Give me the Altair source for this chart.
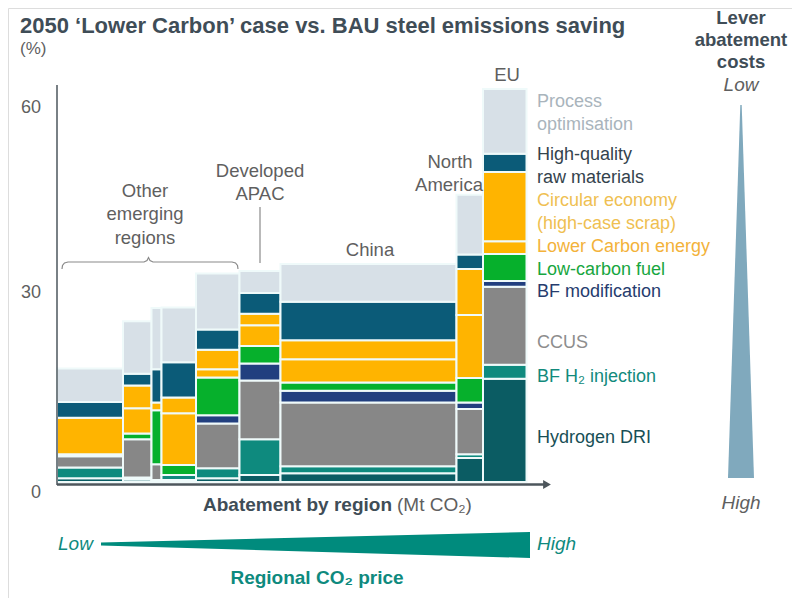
import altair as alt
import pandas as pd

# ---------------- data ----------------
bar_names = ["Other emerging 1", "Other emerging 2", "Other emerging 3", "Other emerging 4",
             "Other emerging 5", "Developed APAC", "China", "North America", "EU"]
# abatement by region (bar widths, relative Mt CO2)
bar_widths = [66, 28.5, 10, 34.5, 43.5, 41, 176, 26.5, 43.5]

levers = ["Hydrogen DRI", "BF H2 injection", "CCUS", "BF modification", "Low-carbon fuel",
          "Lower Carbon energy", "Circular economy", "High-quality raw materials",
          "Process optimisation"]
lever_colors = ["#0b5c63", "#0e8a7e", "#878787", "#213f7f", "#06b02c",
                "#ffb400", "#ffb400", "#0b5b78", "#d7e0e7"]

# emissions saving (%) per lever, one value per bar (bottom -> top stacking order)
hydrogen_dri   = [0.6, 0.4, 0.3, 0.3, 0.6, 1.1, 1.4, 3.8, 16.4]
bf_h2          = [1.7, 0.3, 0.0, 0.8, 1.6, 5.7, 1.1, 0.6, 2.2]
ccus           = [1.8, 6.1, 2.5, 0.0, 7.1, 9.3, 10.1, 7.2, 12.4]
bf_mod         = [0.0, 0.0, 0.0, 0.0, 1.3, 2.7, 1.9, 1.0, 0.9]
low_c_fuel     = [0.0, 0.9, 8.6, 1.6, 6.0, 2.8, 1.3, 3.9, 4.3]
lower_c_energy = [0.3, 4.0, 0.0, 8.2, 1.3, 3.3, 3.7, 10.0, 2.0]
circular       = [5.8, 3.6, 1.2, 2.5, 3.1, 1.8, 3.0, 7.3, 11.0]
hq_raw         = [2.5, 1.9, 5.3, 5.6, 3.2, 3.3, 6.1, 2.3, 2.9]
process_opt    = [5.3, 8.3, 9.7, 8.7, 8.9, 3.5, 6.0, 9.5, 10.3]
lever_values = [hydrogen_dri, bf_h2, ccus, bf_mod, low_c_fuel,
                lower_c_energy, circular, hq_raw, process_opt]

ytick_labels = ["0", "30", "60"]
ytick_pos = [-1.7, 30, 59.4]

legend_lines = [("Process", 102, "#a9b4bc"), ("optimisation", 125, "#a9b4bc"),
                ("High-quality", 155, "#34434d"), ("raw materials", 178, "#34434d"),
                ("Circular economy", 201, "#efbf52"), ("(high-case scrap)", 224, "#efbf52"),
                ("Lower Carbon energy", 247, "#f3b23a"),
                ("Low-carbon fuel", 270, "#17a640"),
                ("BF modification", 292, "#263c6e"),
                ("CCUS", 343, "#8d8d8d"),
                ("BF H\u2082 injection", 377, "#128a7c"),
                ("Hydrogen DRI", 438, "#184f56")]

region_lines = [("EU", 507, 75), ("North", 450, 162), ("America", 449, 185),
                ("China", 370, 250), ("Developed", 260, 171), ("APAC", 260, 194),
                ("Other", 145, 191), ("emerging", 145, 214), ("regions", 145, 238)]

OFF = 8  # page margin -> plot coordinates
FONT = "Liberation Sans"
DARK = "#3f4d57"
GREY = "#5f5f5f"
TEAL = "#0e8a7e"

# ---------------- build bar table ----------------
rows = []
xcum = 0.0
for i, name in enumerate(bar_names):
    ycum = 0.0
    for j, lev in enumerate(levers):
        v = lever_values[j][i]
        if v > 0:
            rows.append(dict(region=name, lever=lev, x0=xcum, x1=xcum + bar_widths[i],
                             y0=ycum, y1=ycum + v, value=v))
        ycum += v
    xcum += bar_widths[i]
bars_df = pd.DataFrame(rows)
total_w = sum(bar_widths)

xsc = alt.Scale(domain=[0, total_w], range=[57 - OFF, 526.5 - OFF], nice=False, zero=False)
ysc = alt.Scale(domain=[0, 60], range=[482 - OFF, 104 - OFF], nice=False, zero=False)

bars = alt.Chart(bars_df).mark_rect(stroke="#effafa", strokeWidth=2).encode(
    x=alt.X("x0:Q", scale=xsc, axis=None), x2="x1:Q",
    y=alt.Y("y0:Q", scale=ysc, axis=None), y2="y1:Q",
    color=alt.Color("lever:N", scale=alt.Scale(domain=levers, range=lever_colors), legend=None),
    tooltip=["region", "lever", "value"],
)

ytick_df = pd.DataFrame({"t": ytick_labels, "pos": ytick_pos})
yticks = alt.Chart(ytick_df).mark_text(font=FONT, fontSize=18, align="right", baseline="middle",
                                       color=GREY).encode(
    x=alt.value(41 - OFF),
    y=alt.Y("pos:Q", scale=ysc, axis=None),
    text="t:N",
)


def pix(df):
    df = df.copy()
    df["px"] = df["px"] - OFF
    df["py"] = df["py"] - OFF
    return df


def text_layer(df, **kw):
    return alt.Chart(pix(df)).mark_text(font=FONT, baseline="middle", **kw).encode(
        x=alt.X("px:Q", scale=None, axis=None),
        y=alt.Y("py:Q", scale=None, axis=None),
        text="t:N",
        color=alt.Color("c:N", scale=None, legend=None),
    )


legend_df = pd.DataFrame([dict(t=t, px=537, py=y, c=c) for t, y, c in legend_lines])
legend_txt = text_layer(legend_df, fontSize=18, align="left")

region_df = pd.DataFrame([dict(t=t, px=x, py=y, c=GREY) for t, x, y in region_lines])
region_txt = text_layer(region_df, fontSize=18.5, align="center")

title_df = pd.DataFrame([dict(t="2050 \u2018Lower Carbon\u2019 case vs. BAU steel emissions saving",
                              px=20, py=26, c=DARK)])
title_txt = text_layer(title_df, fontSize=22, fontWeight="bold", align="left")

unit_df = pd.DataFrame([dict(t="(%)", px=20, py=49, c=GREY)])
unit_txt = text_layer(unit_df, fontSize=17, align="left")

bold_center_df = pd.DataFrame([
    dict(t="Lever", px=741, py=18, c=DARK),
    dict(t="abatement", px=741, py=40, c=DARK),
    dict(t="costs", px=741, py=62, c=DARK),
])
bold_center_txt = text_layer(bold_center_df, fontSize=18.5, fontWeight="bold", align="center")

ital_df = pd.DataFrame([
    dict(t="Low", px=741, py=85, c=GREY),
    dict(t="High", px=741, py=503, c=GREY),
])
ital_txt = text_layer(ital_df, fontSize=19, fontStyle="italic", align="center")

ital_teal_df = pd.DataFrame([
    dict(t="Low", px=58, py=544, c=TEAL),
    dict(t="High", px=537, py=544, c=TEAL),
])
ital_teal_txt = text_layer(ital_teal_df, fontSize=19, fontStyle="italic", align="left")

xlab_bold = text_layer(pd.DataFrame([dict(t="Abatement by region", px=392, py=505, c=DARK)]),
                       fontSize=19, fontWeight="bold", align="right")
xlab_reg = text_layer(pd.DataFrame([dict(t="(Mt CO\u2082)", px=397, py=505, c=GREY)]),
                      fontSize=19, align="left")
price_txt = text_layer(pd.DataFrame([dict(t="Regional CO\u2082 price", px=317, py=578, c=TEAL)]),
                       fontSize=19, fontWeight="bold", align="center")

# ---------------- decorations ----------------
# vertical cost triangle
vtri = pix(pd.DataFrame({"py": [105, 478], "px": [740.3, 728], "px2": [741.7, 754]}))
vtri["px2"] = vtri["px2"] - OFF
vtri_layer = alt.Chart(vtri).mark_area(orient="horizontal", color="#80a9bd").encode(
    y=alt.Y("py:Q", scale=None, axis=None),
    x=alt.X("px:Q", scale=None, axis=None),
    x2="px2:Q",
)

# horizontal CO2-price wedge
htri = pix(pd.DataFrame({"px": [101, 530], "py": [542.5, 532], "py2": [545.5, 558]}))
htri["py2"] = htri["py2"] - OFF
htri_layer = alt.Chart(htri).mark_area(orient="vertical", color="#008b7d").encode(
    x=alt.X("px:Q", scale=None, axis=None),
    y=alt.Y("py:Q", scale=None, axis=None),
    y2="py2:Q",
)

# brace over "Other emerging regions"
brace = pix(pd.DataFrame({
    "px": [62, 62.5, 64.5, 68, 144, 147, 148.5, 150, 153, 232, 235.5, 237.5, 238],
    "py": [269, 265.5, 263, 262, 262, 260.5, 257.5, 260.5, 262, 262, 263, 265.5, 269],
}))
brace["i"] = range(len(brace))
brace_layer = alt.Chart(brace).mark_line(color="#8a8a8a", strokeWidth=1.2).encode(
    x=alt.X("px:Q", scale=None, axis=None),
    y=alt.Y("py:Q", scale=None, axis=None),
    order="i:Q",
)

apac_line = alt.Chart(pd.DataFrame({"a": [0]})).mark_rule(color="#8a8a8a", strokeWidth=1.2).encode(
    x=alt.value(260 - OFF), y=alt.value(207 - OFF), y2=alt.value(263 - OFF))

yaxis_line = alt.Chart(pd.DataFrame({"a": [0]})).mark_rule(color="#4d565c", strokeWidth=1.5).encode(
    x=alt.value(57 - OFF), y=alt.value(85 - OFF), y2=alt.value(485 - OFF))
xaxis_line = alt.Chart(pd.DataFrame({"a": [0]})).mark_rule(color="#4d565c", strokeWidth=2.5).encode(
    x=alt.value(57 - OFF), x2=alt.value(545 - OFF), y=alt.value(484.5 - OFF))
arrow = alt.Chart(pd.DataFrame({"a": [0]})).mark_point(
    shape="triangle-right", filled=True, size=80, color="#4d565c", opacity=1).encode(
    x=alt.value(547 - OFF), y=alt.value(484.5 - OFF))

chart = alt.layer(
    bars, yticks, yaxis_line, xaxis_line, arrow,
    brace_layer, apac_line, vtri_layer, htri_layer,
    legend_txt, region_txt, title_txt, unit_txt, bold_center_txt, ital_txt,
    ital_teal_txt, xlab_bold, xlab_reg, price_txt,
).resolve_scale(
    x="independent", y="independent", color="independent"
).properties(
    width=784, height=590, padding=0, autosize="none", background="white"
).configure_view(stroke=None).configure(font=FONT)

chart.save("out.html", embed_options={"renderer": "svg", "actions": False})
